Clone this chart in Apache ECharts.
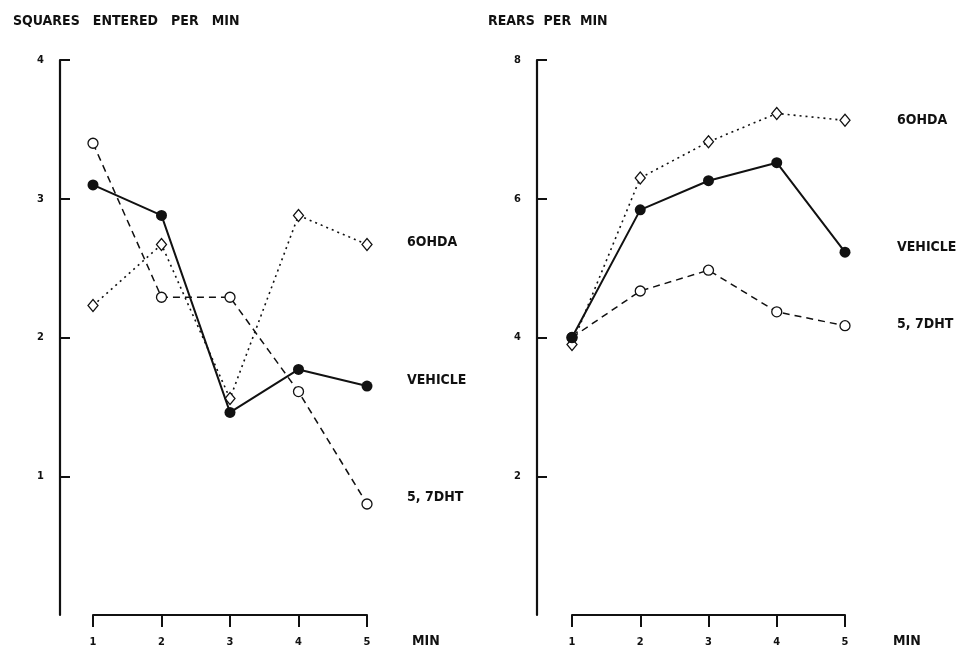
<!DOCTYPE html>
<html>
<head>
<meta charset="utf-8">
<script src="https://cdn.jsdelivr.net/npm/echarts@6/dist/echarts.min.js"></script>
<style>
  html, body { margin: 0; padding: 0; background: #fff; }
  #chart { width: 964px; height: 654px; }
</style>
</head>
<body>
<div id="chart"></div>
<script>
// minutes on the x axis
const minutes = [1, 2, 3, 4, 5];

// squares entered per min
const squaresVehicle = [3.10, 2.88, 1.46, 1.77, 1.65];
const squares57dht = [3.40, 2.29, 2.29, 1.61, 0.80];
const squares6ohda = [2.23, 2.67, 1.56, 2.88, 2.67];

// rears per min
const rearsVehicle = [4.00, 5.84, 6.26, 6.52, 5.23];
const rears57dht = [4.00, 4.67, 4.97, 4.37, 4.17];
const rears6ohda = [3.90, 6.30, 6.82, 7.23, 7.13];

const font = 'DejaVu Sans Condensed';
const ink = '#111';

const chart = echarts.init(document.getElementById('chart'));

function pairs(vals) {
  return minutes.map((m, i) => [m, vals[i]]);
}

function xAxisFor(gridIndex) {
  return {
    gridIndex: gridIndex,
    type: 'value',
    min: 1,
    max: 5,
    interval: 1,
    offset: 1,
    name: 'MIN',
    nameLocation: 'end',
    nameGap: gridIndex === 0 ? 45 : 48,
    nameTextStyle: {
      fontFamily: font, fontWeight: 'bold', fontSize: 14, color: ink,
      verticalAlign: 'top', padding: [19, 0, 0, 0]
    },
    axisLine: { show: true, lineStyle: { color: ink, width: 2 } },
    axisTick: { show: true, inside: false, length: 12, lineStyle: { color: ink, width: 2 } },
    axisLabel: { fontFamily: font, fontWeight: 'bold', fontSize: 11, color: ink, margin: 21 },
    splitLine: { show: false }
  };
}

function yAxisFor(gridIndex, max, interval, offset) {
  return {
    gridIndex: gridIndex,
    type: 'value',
    min: 0,
    max: max,
    interval: interval,
    offset: offset,
    axisLine: { show: true, lineStyle: { color: ink, width: 2.2 } },
    axisTick: { show: true, inside: true, length: 10, lineStyle: { color: ink, width: 2 } },
    axisLabel: {
      fontFamily: font, fontWeight: 'bold', fontSize: 11, color: ink, margin: 16,
      showMinLabel: false
    },
    splitLine: { show: false }
  };
}

function lineSeries(name, vals, idx, kind, labelDist, labelDy) {
  const s = {
    name: name,
    type: 'line',
    xAxisIndex: idx,
    yAxisIndex: idx,
    data: pairs(vals),
    lineStyle: { color: ink, width: 1.5 },
    itemStyle: { color: '#fff', borderColor: ink, borderWidth: 1.3 },
    endLabel: {
      show: true,
      formatter: name,
      distance: labelDist,
      offset: [0, labelDy],
      fontFamily: font, fontWeight: 'bold', fontSize: 14, color: ink
    },
    z: 2
  };
  if (kind === 'vehicle') {
    s.symbol = 'circle';
    s.symbolSize = 11;
    s.lineStyle = { color: ink, width: 2 };
    s.itemStyle = { color: ink, borderColor: ink, borderWidth: 0 };
    s.z = 4;
  } else if (kind === 'dht') {
    s.symbol = 'circle';
    s.symbolSize = 10;
    s.lineStyle = { color: ink, width: 1.5, type: [7, 5] };
    s.z = 3;
  } else {
    s.symbol = 'diamond';
    s.symbolSize = [10, 12];
    s.lineStyle = { color: ink, width: 1.6, type: [2, 4] };
  }
  return s;
}

const option = {
  animation: false,
  backgroundColor: '#fff',
  title: [
    {
      text: 'SQUARES   ENTERED   PER   MIN',
      left: 8, top: 9,
      textStyle: { fontFamily: font, fontWeight: 'bold', fontSize: 14, color: ink }
    },
    {
      text: 'REARS  PER  MIN',
      left: 483, top: 9,
      textStyle: { fontFamily: font, fontWeight: 'bold', fontSize: 14, color: ink }
    }
  ],
  grid: [
    { left: 93, right: 597, top: 60, bottom: 39, outerBoundsMode: 'none' },
    { left: 572, right: 119, top: 60, bottom: 39, outerBoundsMode: 'none' }
  ],
  xAxis: [xAxisFor(0), xAxisFor(1)],
  yAxis: [yAxisFor(0, 4, 1, 33), yAxisFor(1, 8, 2, 35)],
  series: [
    lineSeries('6OHDA', squares6ohda, 0, 'ohda', 40, -2),
    lineSeries('5, 7DHT', squares57dht, 0, 'dht', 40, -7),
    lineSeries('VEHICLE', squaresVehicle, 0, 'vehicle', 40, -6),
    lineSeries('6OHDA', rears6ohda, 1, 'ohda', 52, 0),
    lineSeries('5, 7DHT', rears57dht, 1, 'dht', 52, -1),
    lineSeries('VEHICLE', rearsVehicle, 1, 'vehicle', 52, -5)
  ]
};

chart.setOption(option);
</script>
</body>
</html>
